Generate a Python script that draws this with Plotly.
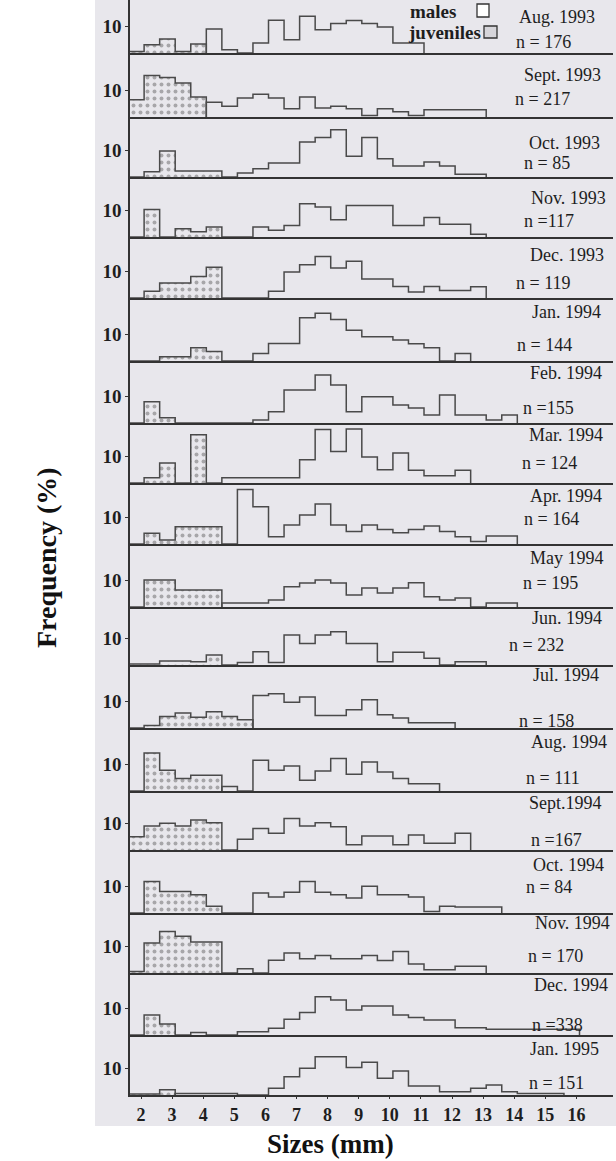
import plotly.graph_objects as go

W, H = 616, 1161

# lower edges of the 0.5 mm size classes (mm)
bin_edges = [1.6, 2.1, 2.6, 3.1, 3.6, 4.1, 4.6, 5.1, 5.6, 6.1, 6.6, 7.1, 7.6, 8.1,
             8.6, 9.1, 9.6, 10.1, 10.6, 11.1, 11.6, 12.1, 12.6, 13.1, 13.6, 14.1,
             14.6, 15.1, 15.6, 16.1, 16.6]
size_ticks = [2, 3, 4, 5, 6, 7, 8, 9, 10, 11, 12, 13, 14, 15, 16]
freq_ticks = [10]

months = ["Aug. 1993", "Sept. 1993", "Oct. 1993", "Nov. 1993", "Dec. 1993",
          "Jan. 1994", "Feb. 1994", "Mar. 1994", "Apr. 1994", "May 1994",
          "Jun. 1994", "Jul. 1994", "Aug. 1994", "Sept.1994", "Oct. 1994",
          "Nov. 1994", "Dec. 1994", "Jan. 1995"]
n_labels = ["n = 176", "n = 217", "n = 85", "n =117", "n = 119", "n = 144",
            "n =155", "n = 124", "n = 164", "n = 195", "n = 232", "n = 158",
            "n = 111", "n =167", "n = 84", "n = 170", "n =338", "n = 151"]

# Frequencies (%) per 0.5 mm class. Juvenile lists start at the first class (1.6 mm);
# male lists continue directly after the last juvenile class.
aug93_juv = [0.6, 3.1, 5.2, 0.6, 3.3]
aug93_males = [8.9, 1.2, 0, 3.7, 12.1, 4.9, 13.6, 8.6, 10.9, 12.0, 10.9, 9.6, 3.7, 3.7]
sep93_juv = [6.4, 15.4, 14.6, 12.6, 7.4]
sep93_males = [5.5, 4.0, 7.0, 8.4, 7.0, 3.1, 7.4, 3.3, 4.0, 3.1, 0.6, 3.1, 1.9, 0.6,
               2.7, 2.7, 2.7, 2.7]
oct93_juv = [0, 1.9, 9.6, 2.2, 2.2, 2.2]
oct93_males = [0, 1.5, 3.1, 5.2, 5.2, 13.0, 14.6, 17.5, 7.7, 14.6, 6.8, 4.1, 4.1, 5.6,
               4.1, 1.0, 1.0]
nov93_juv = [0, 10.2, 0, 3.1, 1.9, 3.7]
nov93_males = [0, 0, 3.7, 2.5, 4.3, 12.3, 11.1, 6.4, 11.7, 11.7, 11.7, 4.3, 4.3, 7.2,
               4.7, 4.7, 1.0]
dec93_juv = [0, 2.5, 5.6, 5.6, 8.0, 11.4]
dec93_males = [0, 0, 0, 2.5, 9.6, 12.3, 15.4, 11.1, 13.6, 7.0, 7.0, 4.3, 2.2, 4.3,
               2.8, 2.8, 4.2]
jan94_juv = [0, 0, 1.6, 1.6, 4.9, 3.5]
jan94_males = [0, 0, 2.8, 6.5, 6.5, 16.0, 17.7, 15.4, 11.4, 9.0, 9.0, 7.8, 6.4, 4.9,
               0, 2.8]
feb94_juv = [0, 7.9, 1.9]
feb94_males = [0, 0, 0, 0, 0, 1.1, 4.2, 12.2, 12.2, 17.8, 14.1, 4.2, 9.7, 9.7, 6.7,
               5.6, 3.0, 10.4, 3.0, 3.0, 1.1, 3.0]
mar94_juv = [0, 1.9, 7.4, 0, 17.9]
mar94_males = [0, 1.9, 1.9, 1.9, 1.9, 1.9, 8.6, 19.8, 11.7, 20.0, 9.6, 4.9, 11.1, 4.7,
               2.7, 2.7, 4.7]
apr94_juv = [0, 4.0, 1.5, 6.4, 6.4, 6.4]
apr94_males = [0, 20.2, 13.8, 2.7, 7.0, 10.7, 14.8, 7.0, 4.6, 7.0, 5.4, 4.2, 5.4, 6.7,
               4.6, 2.7, 0.9, 3.0, 3.0]
may94_juv = [0, 10.0, 10.0, 6.3, 6.3, 6.3]
may94_males = [1.5, 1.5, 1.5, 2.6, 7.5, 8.9, 10.0, 8.9, 4.4, 7.0, 5.2, 7.0, 9.0, 3.8,
               2.6, 3.3, 0, 1.5, 1.5]
jun94_juv = [0.4, 0.4, 1.5, 1.5, 1.2, 3.7]
jun94_males = [0, 0.9, 4.9, 0.9, 11.1, 8.0, 11.1, 12.3, 8.0, 8.0, 1.2, 4.7, 4.7, 2.5,
               0, 1.2, 1.2]
jul94_juv = [0, 0.9, 4.3, 5.6, 4.0, 6.0, 4.3, 3.1]
jul94_males = [12.0, 12.7, 9.5, 11.5, 4.6, 4.6, 6.8, 10.5, 4.9, 3.7, 1.9, 1.9, 1.9]
aug94_juv = [0, 14.1, 7.7, 4.6, 5.8, 5.8]
aug94_males = [1.7, 0, 11.4, 7.7, 9.3, 4.0, 7.4, 12.0, 6.2, 10.7, 7.0, 4.6, 2.7, 2.7]
sep94_juv = [4.9, 8.9, 9.9, 8.9, 11.1, 10.1]
sep94_males = [0, 4.0, 8.0, 6.2, 11.7, 8.9, 10.1, 8.6, 1.9, 5.2, 5.2, 1.9, 5.6, 2.5,
               2.5, 6.2]
oct94_juv = [0, 11.7, 8.0, 8.0, 6.8, 2.5]
oct94_males = [0, 0, 7.4, 5.9, 7.7, 11.7, 7.7, 6.8, 5.6, 9.9, 6.8, 6.8, 5.9, 0.6, 2.5,
               2.2, 2.2, 2.2]
nov94_juv = [0.6, 11.1, 15.4, 13.6, 11.5, 11.5]
nov94_males = [0, 1.6, 0, 4.7, 7.4, 5.3, 6.5, 5.3, 5.3, 6.5, 4.6, 8.0, 3.3, 1.2, 1.2,
               2.5, 2.5]
dec94_juv = [0, 7.4, 4.1]
dec94_males = [0, 0.9, 0, 0, 1.2, 1.2, 2.5, 5.8, 8.3, 14.2, 13.0, 9.3, 10.7, 10.7, 7.4,
               6.5, 5.6, 5.6, 2.7, 2.7, 2.1, 2.1, 2.1, 2.1, 2.1, 2.1]
jan95_juv = [0.4, 0.4, 1.9]
jan95_males = [0.6, 0.6, 0.6, 0.6, 0, 0, 2.5, 6.8, 9.9, 14.2, 14.2, 10.2, 12.1, 6.2,
               8.9, 3.3, 3.3, 1.2, 1.2, 2.5, 3.7, 1.2, 0.6, 0.6, 0.6]

juveniles = [aug93_juv, sep93_juv, oct93_juv, nov93_juv, dec93_juv, jan94_juv,
             feb94_juv, mar94_juv, apr94_juv, may94_juv, jun94_juv, jul94_juv,
             aug94_juv, sep94_juv, oct94_juv, nov94_juv, dec94_juv, jan95_juv]
males = [aug93_males, sep93_males, oct93_males, nov93_males, dec93_males, jan94_males,
         feb94_males, mar94_males, apr94_males, may94_males, jun94_males, jul94_males,
         aug94_males, sep94_males, oct94_males, nov94_males, dec94_males, jan95_males]

# ---------------- layout geometry (pixels) ----------------
baselines = [53, 117, 177, 237, 298, 361, 423, 483, 544, 607, 665, 728, 791, 850,
             913, 973, 1035, 1095]
PX_PER_PCT = 2.7
X_LEFT, X_RIGHT = 130, 613
X0_MM, PX_PER_MM = 2.0, 31.1
X0_PX = 141
x_range = [X0_MM + (X_LEFT - X0_PX) / PX_PER_MM, X0_MM + (X_RIGHT - X0_PX) / PX_PER_MM]

month_pos = [(557, 17), (562, 75), (564, 143), (568, 198), (567, 255), (566, 312),
             (566, 373), (566, 435), (566, 496), (567, 558), (567, 618), (566, 675),
             (569, 742), (565, 803), (568, 865), (572, 923), (571, 985), (564, 1049)]
n_pos = [(543, 42), (542, 99), (547, 163), (549, 221), (543, 283), (544, 345),
         (548, 408), (549, 463), (551, 519), (550, 583), (536, 645), (546, 721),
         (553, 778), (556, 840), (549, 887), (555, 956), (557, 1025), (556, 1083)]

BG = "#e8e7ec"
LINE = "#4a4a4a"
AX = "#333333"
FONT = "Liberation Serif"


def px(xp, yp):
    return xp / W, 1 - yp / H


def steps(start, vals):
    xs = [bin_edges[start]]
    ys = [0]
    for i, v in enumerate(vals):
        xs.append(bin_edges[start + i])
        ys.append(v)
    xs.append(bin_edges[start + len(vals)])
    ys.append(0)
    return xs, ys


fig = go.Figure()
layout = {}
tops = [0] + baselines[:-1]
for i in range(18):
    xa = "x" if i == 0 else f"x{i + 1}"
    ya = "y" if i == 0 else f"y{i + 1}"
    juv = juveniles[i]
    mal = males[i]
    jx, jy = steps(0, juv)
    fig.add_trace(go.Scatter(
        x=jx, y=jy, xaxis=xa, yaxis=ya, mode="lines", line_shape="hv",
        line=dict(color=LINE, width=1.5), fill="tozeroy", fillcolor=BG,
        fillpattern=dict(shape=".", fgcolor="#666666", bgcolor=BG, size=7, solidity=0.25),
        showlegend=False, hoverinfo="skip"))
    mx, my = steps(len(juv), mal)
    fig.add_trace(go.Scatter(
        x=mx, y=my, xaxis=xa, yaxis=ya, mode="lines", line_shape="hv",
        line=dict(color=LINE, width=1.5), showlegend=False, hoverinfo="skip"))

    top, base = tops[i], baselines[i]
    last = i == 17
    xkey = "xaxis" if i == 0 else f"xaxis{i + 1}"
    ykey = "yaxis" if i == 0 else f"yaxis{i + 1}"
    layout[xkey] = dict(
        domain=[X_LEFT / W, X_RIGHT / W], range=x_range, anchor=ya,
        showline=True, linecolor=AX, linewidth=2, showgrid=False, zeroline=False,
        tickvals=size_ticks if last else [], ticks="outside" if last else "",
        ticklen=2, tickcolor=AX, showticklabels=last,
        tickfont=dict(family=FONT, size=18, color="#1e1e1e", weight="bold"))
    layout[ykey] = dict(
        domain=[1 - base / H, 1 - top / H], range=[0, (base - top) / PX_PER_PCT],
        anchor=xa, showline=True, linecolor=AX, linewidth=1.5, showgrid=False,
        zeroline=False, tickvals=freq_ticks, ticktext=[str(t) for t in freq_ticks],
        ticks="outside", ticklen=3, tickcolor=AX,
        tickfont=dict(family=FONT, size=19, color="#1e1e1e", weight="bold"))

annotations = []
for i in range(18):
    mx_, my_ = px(*month_pos[i])
    annotations.append(dict(x=mx_, y=my_, xref="paper", yref="paper", text=months[i],
                            showarrow=False, xanchor="center", yanchor="middle",
                            font=dict(family=FONT, size=18, color="#1e1e1e")))
    nx_, ny_ = px(*n_pos[i])
    annotations.append(dict(x=nx_, y=ny_, xref="paper", yref="paper", text=n_labels[i],
                            showarrow=False, xanchor="center", yanchor="middle",
                            font=dict(family=FONT, size=18, color="#1e1e1e")))

# legend
lx, ly = px(433, 11)
annotations.append(dict(x=lx, y=ly, xref="paper", yref="paper", text="males",
                        showarrow=False, xanchor="center", yanchor="middle",
                        font=dict(family=FONT, size=19, color="#1e1e1e", weight="bold")))
lx, ly = px(444, 32)
annotations.append(dict(x=lx, y=ly, xref="paper", yref="paper", text="juveniles",
                        showarrow=False, xanchor="center", yanchor="middle",
                        font=dict(family=FONT, size=19, color="#1e1e1e", weight="bold")))
# axis titles
tx, ty = px(46, 558)
annotations.append(dict(x=tx, y=ty, xref="paper", yref="paper", text="Frequency (%)",
                        textangle=-90, showarrow=False, xanchor="center", yanchor="middle",
                        font=dict(family=FONT, size=28, color="#111111", weight="bold")))
tx, ty = px(330, 1144)
annotations.append(dict(x=tx, y=ty, xref="paper", yref="paper", text="Sizes (mm)",
                        showarrow=False, xanchor="center", yanchor="middle",
                        font=dict(family=FONT, size=27, color="#111111", weight="bold")))

shapes = []
x0, y0 = px(95, 1126)
shapes.append(dict(type="rect", xref="paper", yref="paper", x0=x0, x1=1, y0=y0, y1=1,
                   fillcolor=BG, line=dict(width=0), layer="below"))
# legend boxes
bx0, by0 = px(477, 17)
bx1, by1 = px(489, 4)
shapes.append(dict(type="rect", xref="paper", yref="paper", x0=bx0, x1=bx1, y0=by0, y1=by1,
                   fillcolor="white", line=dict(color=AX, width=1.3)))
bx0, by0 = px(484, 38)
bx1, by1 = px(497, 26)
shapes.append(dict(type="rect", xref="paper", yref="paper", x0=bx0, x1=bx1, y0=by0, y1=by1,
                   fillcolor="#d6d5da", line=dict(color=AX, width=1.3)))

fig.update_layout(width=W, height=H, margin=dict(l=0, r=0, t=0, b=0),
                  paper_bgcolor="white", plot_bgcolor="rgba(0,0,0,0)",
                  annotations=annotations, shapes=shapes, showlegend=False, **layout)

fig.write_html("out.html", config={"displayModeBar": False},
               post_script="document.body.style.margin='0';")
